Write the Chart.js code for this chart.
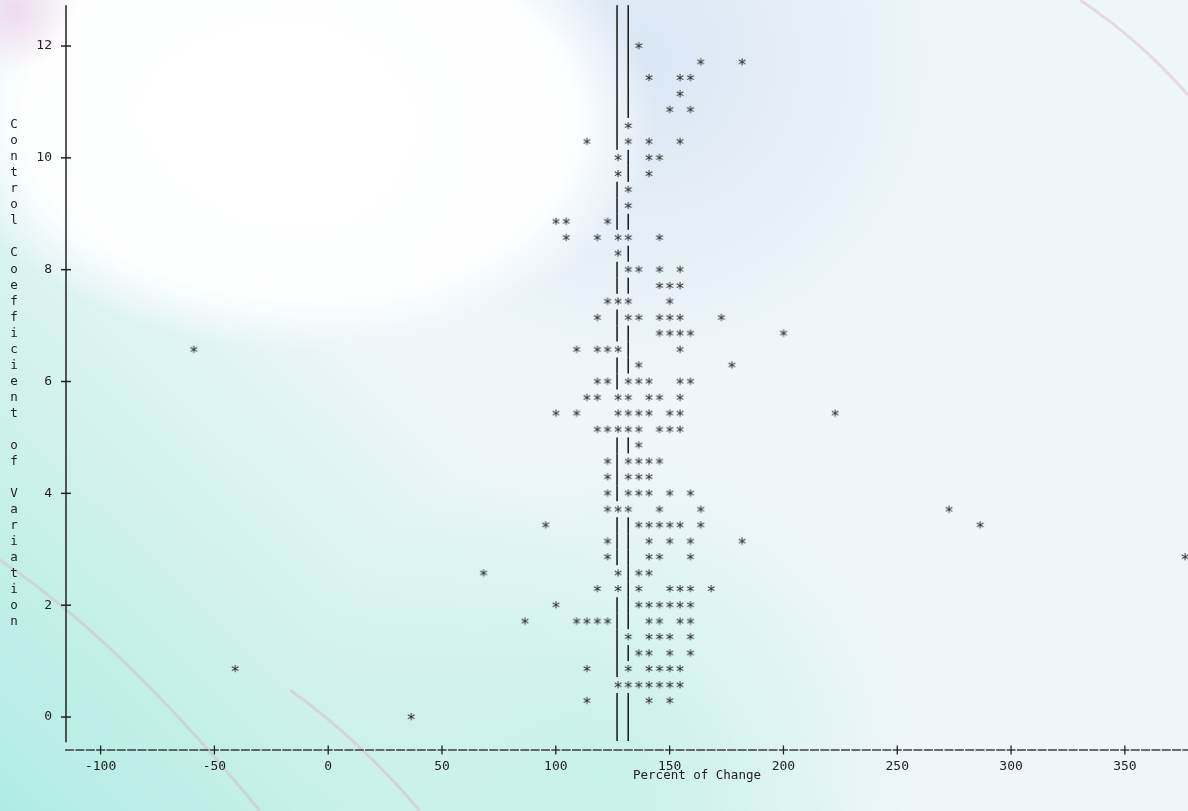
<!DOCTYPE html>
<html>
<head>
<meta charset="utf-8">
<script src="https://cdn.jsdelivr.net/npm/chart.js@4.4.0/dist/chart.umd.min.js"></script>
<style>
html, body { margin: 0; padding: 0; background: #eef7f9; }
#wrap { width: 1188px; height: 811px; }
</style>
</head>
<body>
<div id="wrap"><canvas id="mycanvas" width="1188" height="811"></canvas></div>
<script>
// percent of change (x) and control coefficient of variation (y), one line per plot row
var pctChange = [
    36.4,
    113.6, 140.9, 150.0,
    127.3, 131.8, 136.4, 140.9, 145.5, 150.0, 154.5,
    -40.9, 113.6, 131.8, 140.9, 145.5, 150.0, 154.5,
    136.4, 140.9, 150.0, 159.1,
    131.8, 140.9, 145.5, 150.0, 159.1,
    86.4, 109.1, 113.6, 118.2, 122.7, 140.9, 145.5, 154.5, 159.1,
    100.0, 136.4, 140.9, 145.5, 150.0, 154.5, 159.1,
    118.2, 127.3, 136.4, 150.0, 154.5, 159.1, 168.2,
    68.2, 127.3, 136.4, 140.9,
    122.7, 140.9, 145.5, 159.1, 376.4,
    122.7, 140.9, 150.0, 159.1, 181.8,
    95.5, 136.4, 140.9, 145.5, 150.0, 154.5, 163.6, 286.4,
    122.7, 127.3, 131.8, 145.5, 163.6, 272.7,
    122.7, 131.8, 136.4, 140.9, 150.0, 159.1,
    122.7, 131.8, 136.4, 140.9,
    122.7, 131.8, 136.4, 140.9, 145.5,
    136.4,
    118.2, 122.7, 127.3, 131.8, 136.4, 145.5, 150.0, 154.5,
    100.0, 109.1, 127.3, 131.8, 136.4, 140.9, 150.0, 154.5, 222.7,
    113.6, 118.2, 127.3, 131.8, 140.9, 145.5, 154.5,
    118.2, 122.7, 131.8, 136.4, 140.9, 154.5, 159.1,
    136.4, 177.3,
    -59.1, 109.1, 118.2, 122.7, 127.3, 154.5,
    145.5, 150.0, 154.5, 159.1, 200.0,
    118.2, 131.8, 136.4, 145.5, 150.0, 154.5, 172.7,
    122.7, 127.3, 131.8, 150.0,
    145.5, 150.0, 154.5,
    131.8, 136.4, 145.5, 154.5,
    127.3,
    104.5, 118.2, 127.3, 131.8, 145.5,
    100.0, 104.5, 122.7,
    131.8,
    131.8,
    127.3, 140.9,
    127.3, 140.9, 145.5,
    113.6, 131.8, 140.9, 154.5,
    131.8,
    150.0, 159.1,
    154.5,
    140.9, 154.5, 159.1,
    163.6, 181.8,
    136.4
];
var ctrlCV = [
    0,
    0.29, 0.29, 0.29,
    0.57, 0.57, 0.57, 0.57, 0.57, 0.57, 0.57,
    0.86, 0.86, 0.86, 0.86, 0.86, 0.86, 0.86,
    1.14, 1.14, 1.14, 1.14,
    1.43, 1.43, 1.43, 1.43, 1.43,
    1.71, 1.71, 1.71, 1.71, 1.71, 1.71, 1.71, 1.71, 1.71,
    2.00, 2.00, 2.00, 2.00, 2.00, 2.00, 2.00,
    2.29, 2.29, 2.29, 2.29, 2.29, 2.29, 2.29,
    2.57, 2.57, 2.57, 2.57,
    2.86, 2.86, 2.86, 2.86, 2.86,
    3.14, 3.14, 3.14, 3.14, 3.14,
    3.43, 3.43, 3.43, 3.43, 3.43, 3.43, 3.43, 3.43,
    3.71, 3.71, 3.71, 3.71, 3.71, 3.71,
    4.00, 4.00, 4.00, 4.00, 4.00, 4.00,
    4.29, 4.29, 4.29, 4.29,
    4.57, 4.57, 4.57, 4.57, 4.57,
    4.86,
    5.14, 5.14, 5.14, 5.14, 5.14, 5.14, 5.14, 5.14,
    5.43, 5.43, 5.43, 5.43, 5.43, 5.43, 5.43, 5.43, 5.43,
    5.71, 5.71, 5.71, 5.71, 5.71, 5.71, 5.71,
    6.00, 6.00, 6.00, 6.00, 6.00, 6.00, 6.00,
    6.29, 6.29,
    6.57, 6.57, 6.57, 6.57, 6.57, 6.57,
    6.86, 6.86, 6.86, 6.86, 6.86,
    7.14, 7.14, 7.14, 7.14, 7.14, 7.14, 7.14,
    7.43, 7.43, 7.43, 7.43,
    7.71, 7.71, 7.71,
    8.00, 8.00, 8.00, 8.00,
    8.29,
    8.57, 8.57, 8.57, 8.57, 8.57,
    8.86, 8.86, 8.86,
    9.14,
    9.43,
    9.71, 9.71,
    10.00, 10.00, 10.00,
    10.29, 10.29, 10.29, 10.29,
    10.57,
    10.86, 10.86,
    11.14,
    11.43, 11.43, 11.43,
    11.71, 11.71,
    12.00
];
var refLines = [126.9, 131.8];
var xTickValues = [-100, -50, 0, 50, 100, 150, 200, 250, 300, 350];
var yTickValues = [0, 2, 4, 6, 8, 10, 12];
var xTitle = 'Percent of Change';
var yTitle = 'Control Coefficient of Variation';

var monoFont = "'DejaVu Sans Mono', 'Liberation Mono', monospace";
var inkColor = '#222222';

// star glyph used as point style
var star = document.createElement('canvas');
star.width = 18; star.height = 18;
(function() {
    var c = star.getContext('2d');
    c.font = '16px ' + monoFont;
    c.fillStyle = '#262626';
    c.textAlign = 'center';
    var m = c.measureText('*');
    var base = 9 + (m.actualBoundingBoxAscent - m.actualBoundingBoxDescent) / 2;
    c.fillText('*', 9, base);
})();

var points = [];
for (var i in pctChange) {
    points.push({x: pctChange[i], y: ctrlCV[i]});
}

var backdrop = {
    id: 'backdrop',
    beforeDraw: function(chart) {
        var c = chart.ctx, w = chart.width, h = chart.height;
        c.save();
        c.fillStyle = '#eef6f9';
        c.fillRect(0, 0, w, h);
        var g = c.createLinearGradient(0, h, 420, 380);
        g.addColorStop(0, 'rgba(176,236,226,1)');
        g.addColorStop(1, 'rgba(176,236,226,0)');
        c.fillStyle = g;
        c.fillRect(0, 0, w, h);
        var g2 = c.createRadialGradient(600, 770, 10, 600, 770, 320);
        g2.addColorStop(0, 'rgba(195,240,232,0.8)');
        g2.addColorStop(1, 'rgba(195,240,232,0)');
        c.fillStyle = g2;
        c.fillRect(0, 0, w, h);
        var g3 = c.createRadialGradient(640, 60, 10, 640, 60, 320);
        g3.addColorStop(0, 'rgba(214,228,244,0.85)');
        g3.addColorStop(1, 'rgba(214,228,244,0)');
        c.fillStyle = g3;
        c.fillRect(0, 0, w, h);
        // white swirl
        c.save();
        c.translate(300, 120);
        c.scale(1.55, 1);
        var g4 = c.createRadialGradient(0, 0, 20, 0, 0, 230);
        g4.addColorStop(0, 'rgba(255,255,255,1)');
        g4.addColorStop(0.75, 'rgba(255,255,255,0.95)');
        g4.addColorStop(1, 'rgba(255,255,255,0)');
        c.fillStyle = g4;
        c.beginPath();
        c.arc(0, 0, 230, 0, Math.PI * 2);
        c.fill();
        c.restore();
        var g5 = c.createRadialGradient(15, 10, 2, 15, 10, 60);
        g5.addColorStop(0, 'rgba(238,212,236,0.8)');
        g5.addColorStop(1, 'rgba(238,212,236,0)');
        c.fillStyle = g5;
        c.fillRect(0, 0, w, h);
        // faint pink streaks
        c.strokeStyle = 'rgba(215,175,205,0.4)';
        c.lineWidth = 3;
        c.beginPath();
        c.moveTo(0, 560);
        c.quadraticCurveTo(120, 640, 260, 811);
        c.stroke();
        c.beginPath();
        c.moveTo(290, 690);
        c.quadraticCurveTo(360, 740, 420, 811);
        c.stroke();
        c.beginPath();
        c.moveTo(1080, 0);
        c.quadraticCurveTo(1140, 40, 1188, 95);
        c.stroke();
        c.restore();
    }
};

var printerAxes = {
    id: 'printerAxes',
    beforeDatasetsDraw: function(chart) {
        var c = chart.ctx, xs = chart.scales.x, ys = chart.scales.y;
        var area = chart.chartArea;
        var axisTop = ys.getPixelForValue(12.73);
        var axisBottom = ys.getPixelForValue(-0.45);
        c.save();
        c.strokeStyle = inkColor;
        c.lineWidth = 1.5;
        // vertical axis
        c.beginPath();
        c.moveTo(area.left, axisTop);
        c.lineTo(area.left, axisBottom);
        c.stroke();
        yTickValues.forEach(function(v) {
            var py = ys.getPixelForValue(v);
            c.beginPath();
            c.moveTo(area.left - 5, py);
            c.lineTo(area.left + 5, py);
            c.stroke();
        });
        // horizontal axis made of dashes, one per print column
        var ay = area.bottom;
        c.lineWidth = 1.3;
        for (var k = -25; k <= 85; k++) {
            var px = xs.getPixelForValue(k * 50 / 11);
            if (px > chart.width + 6) break;
            c.beginPath();
            c.moveTo(px - 4.5, ay);
            c.lineTo(px + 4.5, ay);
            c.stroke();
            if (k % 11 === 0) {
                c.beginPath();
                c.moveTo(px, ay - 4.5);
                c.lineTo(px, ay + 4.5);
                c.stroke();
            }
        }
        // reference lines, broken where a star sits on them
        c.lineWidth = 1.6;
        refLines.forEach(function(ref) {
            var px = xs.getPixelForValue(ref);
            for (var r = -1; r <= 46; r++) {
                var rv = r * 2 / 7;
                var taken = points.some(function(p) {
                    return Math.abs(p.x - ref) < 1 && Math.abs(p.y - rv) < 0.05;
                });
                if (taken) continue;
                var py = ys.getPixelForValue(rv);
                var y0 = Math.max(axisTop, py - 8), y1 = Math.min(axisBottom, py + 8);
                if (y1 <= y0) continue;
                c.beginPath();
                c.moveTo(px, y0);
                c.lineTo(px, y1);
                c.stroke();
            }
        });
        // titles
        c.fillStyle = inkColor;
        c.font = '12.5px ' + monoFont;
        c.textAlign = 'center';
        c.textBaseline = 'middle';
        c.fillText(xTitle, 697, 776);
        for (var j = 0; j < yTitle.length; j++) {
            c.fillText(yTitle[j], 14, 125 + j * 16.03);
        }
        c.restore();
    }
};

var ctx = document.getElementById('mycanvas');
var plot = new Chart(ctx, {
    type: 'scatter',
    data: {
        datasets: [{
            label: 'CV',
            data: points,
            pointStyle: star,
            pointRadius: 5,
            pointHoverRadius: 5,
            clip: false
        }]
    },
    options: {
        responsive: false,
        animation: false,
        events: [],
        layout: { padding: { top: 5, left: 0, right: 0, bottom: 0 } },
        plugins: {
            legend: { display: false },
            tooltip: { enabled: false }
        },
        scales: {
            x: {
                type: 'linear',
                // plot area ends about 8px short of the right edge
                min: -115.2,
                max: 375.1,
                grid: { display: false, drawTicks: false },
                border: { display: false },
                afterFit: function(s) { s.height = 61; },
                afterBuildTicks: function(s) {
                    s.ticks = xTickValues.map(function(v) { return {value: v}; });
                },
                ticks: {
                    color: inkColor,
                    padding: 9,
                    maxRotation: 0,
                    font: { family: monoFont, size: 13 }
                }
            },
            y: {
                type: 'linear',
                // the tick padding pushes the plot top down to about y=22
                min: -0.59,
                max: 12.433,
                grid: { display: false, drawTicks: false },
                border: { display: false },
                afterFit: function(s) { s.width = 66; },
                afterBuildTicks: function(s) {
                    s.ticks = yTickValues.map(function(v) { return {value: v}; });
                },
                ticks: {
                    color: inkColor,
                    padding: 14,
                    font: { family: monoFont, size: 13 }
                }
            }
        }
    },
    plugins: [backdrop, printerAxes]
});
</script>
</body>
</html>
